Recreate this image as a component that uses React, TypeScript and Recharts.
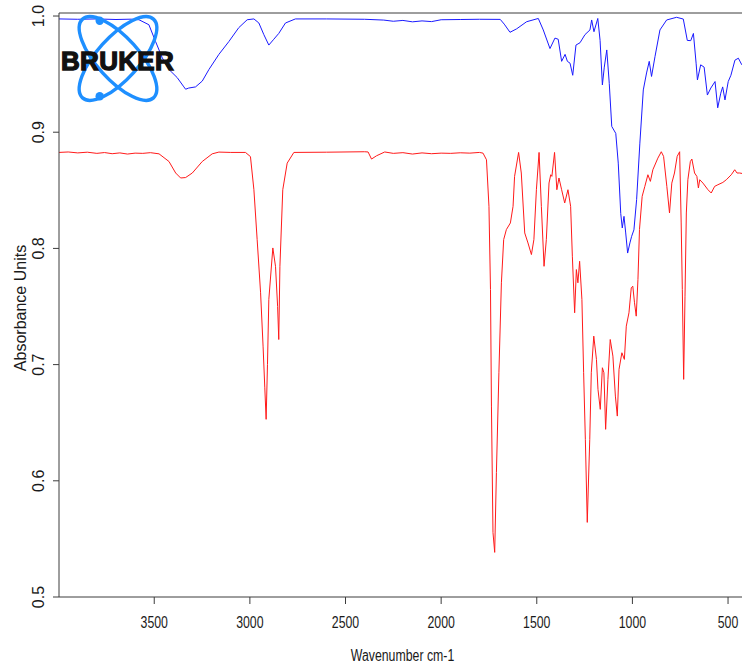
import { LineChart, Line, XAxis, YAxis, ReferenceLine } from 'recharts'

// upper spectrum (blue)
const blueWavenumber = [
  3998, 3900, 3800, 3700, 3620, 3580, 3528, 3493, 3458, 3423, 3380, 3345, 3336, 3320, 3284, 3249, 3214, 3162,
  3110, 3058, 3014, 2979, 2953, 2927, 2901, 2875, 2849, 2814, 2762, 2600, 2400, 2300, 2250, 2200, 2150, 2100,
  2050, 2000, 1900, 1800, 1691, 1670, 1640, 1605, 1553, 1492, 1466, 1431, 1405, 1388, 1370, 1352, 1340, 1326,
  1312, 1295, 1274, 1248, 1222, 1213, 1201, 1181, 1169, 1157, 1147, 1134, 1121, 1108, 1087, 1074, 1061, 1053,
  1044, 1035, 1025, 1013, 1004, 992, 978, 961, 943, 926, 912, 900, 882, 856, 821, 769, 734, 713, 695, 681, 667,
  660, 643, 625, 608, 590, 568, 554, 538, 528, 516, 499, 485, 464, 446, 428,
]
const blueAbsorbance = [
  0.9975, 0.9972, 0.9975, 0.997, 0.9973, 0.9968, 0.9925, 0.978, 0.964, 0.954, 0.947, 0.939, 0.937, 0.938, 0.939,
  0.944, 0.954, 0.967, 0.978, 0.99, 0.9968, 0.9975, 0.994, 0.984, 0.975, 0.98, 0.985, 0.994, 0.9975, 0.9975,
  0.9972, 0.9965, 0.9955, 0.9962, 0.995, 0.9958, 0.9952, 0.9968, 0.997, 0.9972, 0.9971, 0.993, 0.986, 0.989,
  0.9951, 0.9979, 0.988, 0.972, 0.981, 0.98, 0.961, 0.967, 0.961, 0.9594, 0.949, 0.975, 0.977, 0.984, 0.988,
  0.9966, 0.9865, 0.9979, 0.979, 0.9407, 0.956, 0.9708, 0.9421, 0.905, 0.899, 0.8734, 0.83, 0.8176, 0.8276,
  0.8133, 0.796, 0.8047, 0.8104, 0.816, 0.842, 0.8906, 0.9364, 0.951, 0.961, 0.948, 0.965, 0.988, 0.9966, 0.9989,
  0.9974, 0.979, 0.9788, 0.985, 0.9594, 0.945, 0.958, 0.956, 0.932, 0.938, 0.9436, 0.921, 0.9336, 0.939, 0.9278,
  0.9436, 0.949, 0.962, 0.9637, 0.958,
]

// lower spectrum (red)
const redWavenumber = [
  3998, 3950, 3900, 3850, 3800, 3760, 3720, 3680, 3640, 3600, 3560, 3520, 3475, 3423, 3388, 3362, 3336, 3301,
  3249, 3197, 3162, 3100, 3023, 2997, 2979, 2962, 2944, 2931, 2922, 2915, 2908, 2901, 2880, 2866, 2855, 2849,
  2843, 2828, 2805, 2770, 2600, 2400, 2382, 2364, 2338, 2295, 2250, 2200, 2150, 2100, 2050, 2000, 1950, 1900,
  1850, 1800, 1781, 1763, 1750, 1742, 1737, 1729, 1720, 1711, 1698, 1685, 1673, 1659, 1638, 1624, 1616, 1595,
  1581, 1563, 1546, 1528, 1515, 1502, 1488, 1476, 1462, 1450, 1436, 1427, 1421, 1407, 1395, 1384, 1370, 1354,
  1337, 1323, 1314, 1302, 1293, 1285, 1276, 1264, 1255, 1246, 1236, 1223, 1215, 1202, 1188, 1180, 1168, 1157,
  1149, 1140, 1128, 1116, 1102, 1089, 1079, 1070, 1055, 1042, 1032, 1018, 1006, 998, 989, 980, 971, 963, 949,
  935, 919, 906, 893, 867, 849, 837, 820, 806, 794, 780, 766, 753, 745, 739, 732, 725, 718, 710, 697, 689, 675,
  663, 655, 648, 631, 605, 588, 570, 553, 527, 509, 483, 465, 453, 439, 427,
]
const redAbsorbance = [
  0.8826, 0.883, 0.8822, 0.8828, 0.8818, 0.8825, 0.8815, 0.8822, 0.8812, 0.882, 0.8818, 0.8824, 0.8814, 0.8748,
  0.8649, 0.8606, 0.861, 0.8649, 0.8748, 0.8814, 0.8829, 0.8826, 0.8826, 0.879, 0.8505, 0.8076, 0.7618, 0.7159,
  0.68, 0.6529, 0.7, 0.756, 0.8004, 0.7846, 0.75, 0.7216, 0.7846, 0.8505, 0.8734, 0.8826, 0.8828, 0.8832, 0.883,
  0.8769, 0.8797, 0.883, 0.8818, 0.8824, 0.8812, 0.8822, 0.8815, 0.882, 0.8818, 0.8823, 0.882, 0.8826, 0.882,
  0.8763, 0.8362, 0.7646, 0.6643, 0.5556, 0.5384, 0.6071, 0.693, 0.7704, 0.8076, 0.8162, 0.8219, 0.8362, 0.862,
  0.8826, 0.8649, 0.8133, 0.8047, 0.7947, 0.8076, 0.8505, 0.8826, 0.8362, 0.7846, 0.8076, 0.8563, 0.8634, 0.862,
  0.8826, 0.8505, 0.8606, 0.8505, 0.8391, 0.8505, 0.8362, 0.7933, 0.7446, 0.7818, 0.7704, 0.7889, 0.756, 0.693,
  0.6357, 0.5642, 0.6357, 0.693, 0.7245, 0.7045, 0.6787, 0.6615, 0.6973, 0.693, 0.6443, 0.6873, 0.7216, 0.7073,
  0.6729, 0.6557, 0.6959, 0.7102, 0.7045, 0.7331, 0.7446, 0.7661, 0.7675, 0.7532, 0.7417, 0.7732, 0.8162, 0.8448,
  0.8534, 0.8634, 0.8577, 0.8677, 0.8777, 0.8832, 0.8792, 0.8534, 0.8305, 0.8562, 0.8649, 0.8792, 0.8832, 0.8219,
  0.7646, 0.6873, 0.7589, 0.8305, 0.8591, 0.8748, 0.8769, 0.8649, 0.862, 0.852, 0.8591, 0.8562, 0.8505, 0.8477,
  0.8534, 0.8548, 0.8568, 0.8591, 0.8634, 0.8677, 0.8649, 0.8649, 0.8645,
]

const xTicks = [3500, 3000, 2500, 2000, 1500, 1000, 500]
const yTicks = [0.5, 0.6, 0.7, 0.8, 0.9, 1.0]

const blueData = blueWavenumber.map((wn, i) => ({ wn, abs: blueAbsorbance[i] }))
const redData = redWavenumber.map((wn, i) => ({ wn, abs: redAbsorbance[i] }))

const Y_TOP = 1.0026
const AXIS = '#3c3c3c'
const FONT = '"Liberation Sans", Arial, sans-serif'
const SQUEEZE = 0.77 // the source image is narrower than its text height suggests

function XTick({ x, y, payload }: any) {
  return (
    <text
      transform={`translate(${x}, ${y + 22}) scale(${SQUEEZE}, 1)`}
      textAnchor="middle"
      fontSize={16}
      fill="#1a1a1a"
      fontFamily={FONT}
    >
      {payload.value}
    </text>
  )
}

function YTick({ x, y, payload }: any) {
  const tx = x - 7
  return (
    <text x={tx} y={y} transform={`rotate(-90, ${tx}, ${y})`} textAnchor="middle" fontSize={16} fill="#1a1a1a" fontFamily={FONT}>
      {Number(payload.value).toFixed(1)}
    </text>
  )
}

function BrukerLogo() {
  const cx = 118
  const cy = 58.5
  return (
    <svg width={742} height={668} style={{ position: 'absolute', left: 0, top: 0, pointerEvents: 'none' }}>
      <ellipse cx={cx} cy={cy} rx={53} ry={21} transform={`rotate(48, ${cx}, ${cy})`} fill="none" stroke="#1e8fff" strokeWidth={3.4} />
      <ellipse cx={cx} cy={cy} rx={53} ry={21} transform={`rotate(-48, ${cx}, ${cy})`} fill="none" stroke="#1e8fff" strokeWidth={3.4} />
      <circle cx={99.7} cy={20.7} r={4.2} fill="#1e8fff" />
      <circle cx={99.7} cy={96.3} r={4.2} fill="#1e8fff" />
      <text x={61} y={69.5} fontSize={26} fontWeight="bold" fontFamily={FONT} fill="#111" stroke="#111" strokeWidth={1.3} letterSpacing={0.3}>
        BRUKER
      </text>
    </svg>
  )
}

export default function App() {
  return (
    <div style={{ position: 'absolute', left: 0, top: 0, width: 742, height: 668, background: '#fff', overflow: 'hidden' }}>
      <LineChart width={742} height={668} margin={{ top: 13, right: 0, bottom: 0, left: 0 }}>
        <XAxis
          type="number"
          dataKey="wn"
          domain={[427, 3998]}
          reversed
          allowDataOverflow
          ticks={xTicks}
          tick={<XTick />}
          tickSize={7}
          height={71}
          axisLine={{ stroke: AXIS }}
          tickLine={{ stroke: AXIS }}
          label={(props: any) => {
            const vb = props.viewBox
            return (
              <text
                transform={`translate(${vb.x + vb.width / 2 + 2}, ${vb.y + 64}) scale(${SQUEEZE}, 1)`}
                textAnchor="middle"
                fontSize={16}
                fill="#1a1a1a"
                fontFamily={FONT}
              >
                Wavenumber cm-1
              </text>
            )
          }}
        />
        <YAxis
          type="number"
          domain={[0.5, Y_TOP]}
          allowDataOverflow
          ticks={yTicks}
          tick={<YTick />}
          tickSize={6}
          width={59}
          axisLine={{ stroke: AXIS }}
          tickLine={{ stroke: AXIS }}
          label={(props: any) => {
            const vb = props.viewBox
            const tx = 26
            const ty = vb.y + vb.height / 2 + 3
            return (
              <text x={tx} y={ty} transform={`rotate(-90, ${tx}, ${ty})`} textAnchor="middle" fontSize={16} fill="#1a1a1a" fontFamily={FONT}>
                Absorbance Units
              </text>
            )
          }}
        />
        <ReferenceLine y={Y_TOP} stroke={AXIS} />
        <Line data={redData} dataKey="abs" type="linear" stroke="#ff1a1a" strokeWidth={1} dot={false} isAnimationActive={false} />
        <Line data={blueData} dataKey="abs" type="linear" stroke="#1a1aff" strokeWidth={1} dot={false} isAnimationActive={false} />
      </LineChart>
      <BrukerLogo />
    </div>
  )
}
